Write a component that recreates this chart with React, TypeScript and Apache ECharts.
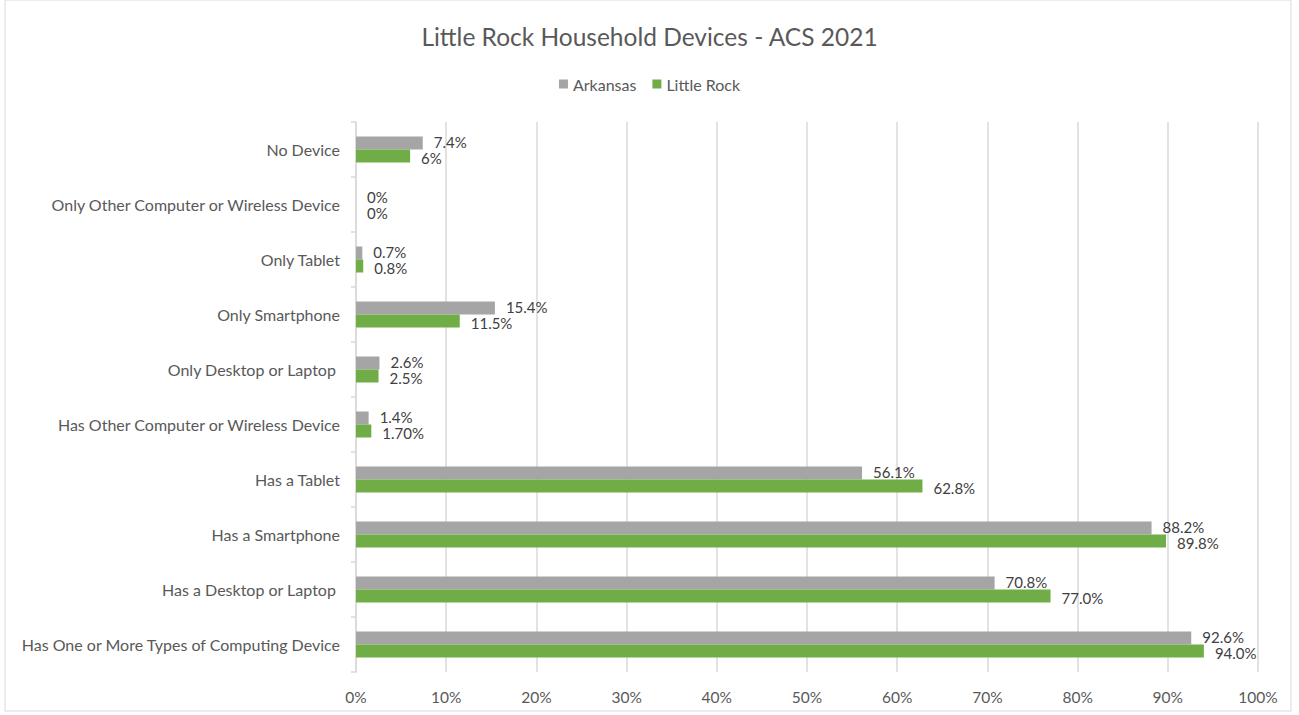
import React, { useEffect, useRef } from "react";
import * as echarts from "echarts";

const categories = [
  "No Device",
  "Only Other Computer or Wireless Device",
  "Only Tablet",
  "Only Smartphone",
  "Only Desktop or Laptop ",
  "Has Other Computer or Wireless Device",
  "Has a Tablet",
  "Has a Smartphone",
  "Has a Desktop or Laptop ",
  "Has One or More Types of Computing Device",
];
const arkansas = [7.4, 0, 0.7, 15.4, 2.6, 1.4, 56.1, 88.2, 70.8, 92.6];
const arkansasLabels = ["7.4%", "0%", "0.7%", "15.4%", "2.6%", "1.4%", "56.1%", "88.2%", "70.8%", "92.6%"];
const littleRock = [6, 0, 0.8, 11.5, 2.5, 1.7, 62.8, 89.8, 77.0, 94.0];
const littleRockLabels = ["6%", "0%", "0.8%", "11.5%", "2.5%", "1.70%", "62.8%", "89.8%", "77.0%", "94.0%"];

const FONT = "Lato";

export default function App() {
  const ref = useRef<HTMLDivElement>(null);
  useEffect(() => {
    document.body.style.margin = "0";
    const chart = echarts.init(ref.current!, null, { renderer: "svg" });
    chart.setOption({
      animation: false,
      textStyle: { fontFamily: FONT },
      title: {
        text: "Little Rock Household Devices - ACS 2021",
        left: "center",
        top: 19,
        textStyle: { fontFamily: FONT, fontSize: 24.5, fontWeight: "normal", color: "#595959" },
      },
      legend: {
        top: 71,
        left: "center",
        itemWidth: 9,
        itemHeight: 9,
        itemGap: 16,
        icon: "rect",
        textStyle: { fontFamily: FONT, fontSize: 16, color: "#595959" },
        data: ["Arkansas", "Little Rock"],
      },
      graphic: [
        {
          type: "rect",
          shape: { x: 5, y: 0, width: 1286, height: 711 },
          style: { fill: "none", stroke: "#d9d9d9", lineWidth: 1 },
          silent: true,
        },
      ],
      grid: { left: 356, right: 41, top: 122, bottom: 43, containLabel: false },
      xAxis: {
        type: "value",
        min: 0,
        max: 100,
        interval: 10,
        axisLabel: {
          formatter: "{value}%",
          fontFamily: FONT,
          fontSize: 15.5,
          color: "#595959",
          margin: 17,
        },
        axisLine: { show: false },
        axisTick: { show: false },
        splitLine: { show: true, lineStyle: { color: "#d9d9d9", width: 1.5 } },
      },
      yAxis: {
        type: "category",
        inverse: true,
        data: categories,
        axisLine: { show: true, lineStyle: { color: "#d9d9d9", width: 1.5 } },
        axisTick: { show: true, length: 5, lineStyle: { color: "#d9d9d9", width: 1.5 } },
        axisLabel: { fontFamily: FONT, fontSize: 16, color: "#595959", margin: 16 },
      },
      series: [
        {
          name: "Arkansas",
          type: "bar",
          data: arkansas,
          barWidth: 13,
          barGap: "0%",
          itemStyle: { color: "#a5a5a5" },
          label: {
            show: true,
            position: "right",
            distance: 11,
            offset: [0, -1.5],
            fontFamily: FONT,
            fontSize: 15,
            lineHeight: 15,
            color: "#404040",
            formatter: (p: any) => arkansasLabels[p.dataIndex],
          },
        },
        {
          name: "Little Rock",
          type: "bar",
          data: littleRock,
          barWidth: 13,
          barGap: "0%",
          itemStyle: { color: "#70ad47" },
          label: {
            show: true,
            position: "right",
            distance: 11,
            offset: [0, 1.5],
            fontFamily: FONT,
            fontSize: 15,
            lineHeight: 15,
            color: "#404040",
            formatter: (p: any) => littleRockLabels[p.dataIndex],
          },
        },
      ],
    });
    return () => chart.dispose();
  }, []);
  return <div ref={ref} style={{ width: 1299, height: 715 }} />;
}
